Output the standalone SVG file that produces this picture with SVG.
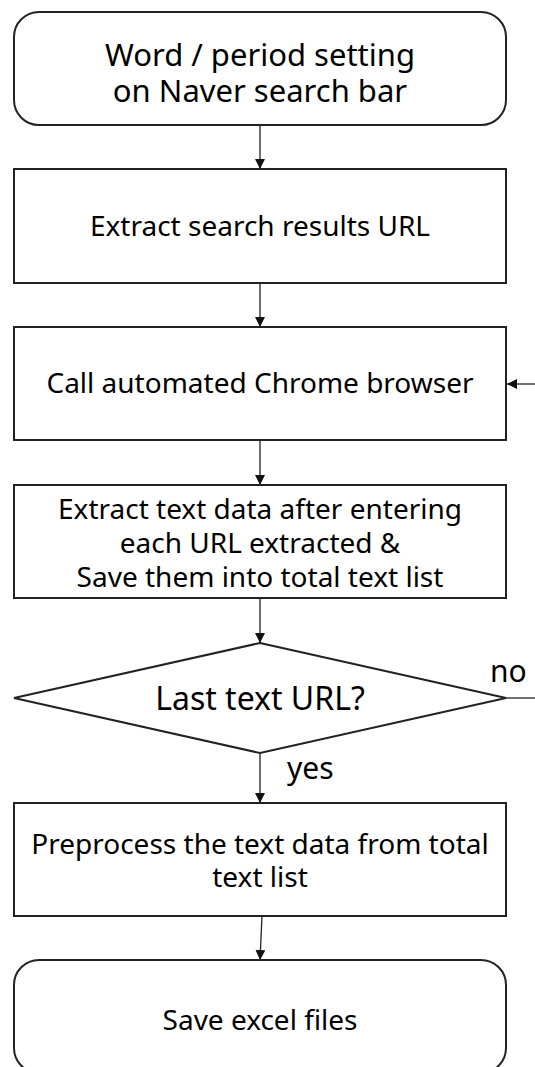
<svg xmlns="http://www.w3.org/2000/svg" width="535" height="1067" viewBox="0 0 535 1067">
<style>
.box{fill:#fff;stroke:#222;stroke-width:2}
.t{font-family:"Noto Sans","Open Sans",sans-serif;font-size:28px;fill:#000;text-anchor:middle}
.big{font-size:31px}
.lbl{font-family:"Noto Sans","Open Sans",sans-serif;font-size:30px;fill:#000}
.c{stroke:#222;stroke-width:1.3;fill:none}
</style>
<defs>
<marker id="ah" viewBox="0 0 10 10" refX="10" refY="5" markerWidth="10" markerHeight="10" markerUnits="userSpaceOnUse" orient="auto">
<path d="M0,0 L10,5 L0,10 z" fill="#111"/>
</marker>
</defs>
<rect width="535" height="1067" fill="#fff"/>
<g id="connectors">
<line class="c" x1="260" y1="125" x2="260" y2="169" marker-end="url(#ah)"/>
<line class="c" x1="260" y1="283" x2="260" y2="327" marker-end="url(#ah)"/>
<line class="c" x1="260" y1="440" x2="260" y2="485" marker-end="url(#ah)"/>
<line class="c" x1="260" y1="598" x2="260" y2="643" marker-end="url(#ah)"/>
<line class="c" x1="260" y1="753" x2="260" y2="803" marker-end="url(#ah)"/>
<line class="c" x1="262" y1="916" x2="260" y2="960" marker-end="url(#ah)"/>
<line class="c" x1="506" y1="698" x2="535" y2="698"/>
<line class="c" x1="535" y1="384" x2="507" y2="384" marker-end="url(#ah)"/>
<text class="lbl" x="490" y="682">no</text>
<text class="lbl" x="287" y="779">yes</text>
</g>
<g id="n1">
<rect class="box" x="14" y="12" width="492" height="113" rx="25"/>
<text class="t big" x="260" y="66">Word / period setting</text>
<text class="t big" x="260" y="102">on Naver search bar</text>
</g>
<g id="n2">
<rect class="box" x="14" y="169" width="492" height="114"/>
<text class="t" x="260" y="236">Extract search results URL</text>
</g>
<g id="n3">
<rect class="box" x="14" y="327" width="492" height="113"/>
<text class="t" x="260" y="393">Call automated Chrome browser</text>
</g>
<g id="n4">
<rect class="box" x="14" y="485" width="492" height="113"/>
<text class="t" x="260" y="519">Extract text data after entering</text>
<text class="t" x="260" y="553">each URL extracted &amp;</text>
<text class="t" x="260" y="587">Save them into total text list</text>
</g>
<g id="n5">
<polygon class="box" points="260,643 506,698 260,753 14,698"/>
<text class="t" x="260" y="710" style="font-size:32px">Last text URL?</text>
</g>
<g id="n6">
<rect class="box" x="14" y="803" width="492" height="113"/>
<text class="t" x="260" y="854">Preprocess the text data from total</text>
<text class="t" x="260" y="887">text list</text>
</g>
<g id="n7">
<rect class="box" x="14" y="960" width="492" height="113" rx="25"/>
<text class="t" x="260" y="1030">Save excel files</text>
</g>
</svg>
